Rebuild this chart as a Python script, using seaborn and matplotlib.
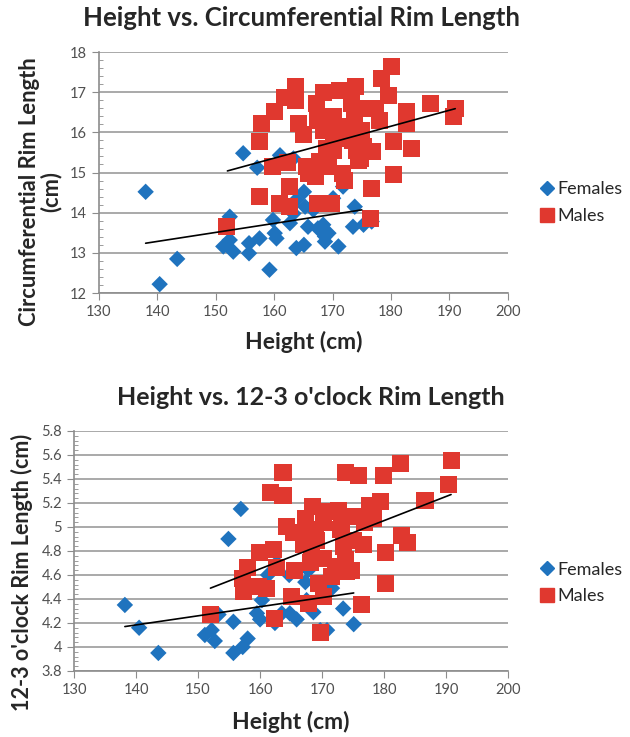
import numpy as np
import pandas as pd
import matplotlib
matplotlib.use("Agg")
import matplotlib.pyplot as plt
import seaborn as sns
from matplotlib.ticker import MultipleLocator
from matplotlib.lines import Line2D

# top chart: height vs circumferential rim length
fem_h1 = [138.0, 140.4, 143.4, 154.7, 157.1, 161.0, 163.3, 152.4, 151.3, 152.4, 153.0, 155.7, 155.7,
          157.5, 159.2, 159.8, 160.1, 160.4, 162.7, 163.8, 165.1, 165.1, 163.8, 165.3, 165.8, 167.5,
          168.4, 168.7, 168.7, 169.3, 170.1, 171.0, 171.8, 173.5, 173.8, 175.3, 176.7, 163.3, 166.7]
fem_c1 = [14.52, 12.22, 12.85, 15.48, 15.12, 15.43, 15.35, 13.90, 13.16, 13.32, 13.03, 12.99, 13.24,
          13.36, 12.58, 13.82, 13.49, 13.36, 13.74, 13.12, 13.20, 14.52, 14.32, 14.15, 13.65, 13.61,
          13.70, 13.41, 13.28, 13.49, 14.36, 13.16, 14.65, 13.65, 14.15, 13.70, 13.78, 13.98, 14.07]
male_h1 = [151.8, 157.5, 157.9, 157.5, 160.0, 159.8, 161.7, 163.7, 163.7, 162.3, 162.7, 161.0, 162.6,
           164.1, 165.1, 165.5, 165.8, 167.1, 167.5, 167.2, 167.5, 168.4, 168.4, 169.0, 167.8, 169.3,
           169.8, 170.1, 170.1, 170.1, 170.1, 171.2, 171.7, 172.1, 172.4, 173.3, 174.0, 173.8, 173.5,
           174.4, 175.3, 175.0, 176.7, 176.5, 175.8, 176.9, 177.4, 178.0, 178.3, 179.5, 180.1, 180.4,
           180.4, 182.7, 182.7, 183.5, 186.7, 190.7, 191.0, 172.1, 174.1, 174.7]
male_c1 = [13.65, 15.77, 16.22, 14.40, 16.51, 15.14, 16.88, 17.13, 16.80, 15.24, 14.65, 14.23, 14.15,
           16.22, 15.95, 15.14, 14.98, 14.90, 14.23, 16.72, 16.30, 17.00, 16.05, 15.60, 15.27, 15.14,
           14.23, 16.39, 16.14, 15.80, 15.55, 17.05, 14.98, 14.81, 16.14, 16.72, 17.13, 16.39, 15.80,
           15.30, 15.64, 16.05, 14.60, 13.86, 16.59, 15.52, 16.59, 16.30, 17.34, 16.92, 17.63, 15.77,
           14.94, 16.51, 16.22, 15.60, 16.72, 16.39, 16.59, 15.85, 15.55, 15.35]
fit1_fem_x = [138.0, 175.0]
fit1_fem_y = [13.24, 14.07]
fit1_male_x = [152.0, 191.0]
fit1_male_y = [15.04, 16.59]

# bottom chart: height vs 12-3 o'clock rim length
fem_h2 = [138.2, 140.5, 143.6, 156.9, 154.9, 151.1, 152.2, 152.7, 153.3, 155.7, 155.7, 157.2, 158.0,
          159.5, 160.0, 160.3, 161.3, 162.7, 162.4, 163.5, 164.7, 164.8, 165.9, 167.3, 167.5, 168.6,
          170.8, 171.6, 173.4, 175.1, 169.7, 165.4, 167.8]
fem_l2 = [4.35, 4.16, 3.95, 5.15, 4.90, 4.10, 4.14, 4.05, 4.27, 4.21, 3.95, 4.00, 4.07,
          4.28, 4.23, 4.39, 4.60, 4.70, 4.20, 4.28, 4.60, 4.28, 4.23, 4.54, 4.39, 4.29,
          4.14, 4.49, 4.32, 4.19, 4.14, 4.64, 4.64]
male_h2 = [152.0, 157.2, 158.0, 157.3, 159.9, 159.7, 161.1, 162.2, 161.7, 163.7, 163.7, 162.6, 162.4,
           164.2, 165.4, 165.6, 165.1, 166.7, 167.0, 167.4, 167.8, 168.5, 168.9, 169.1, 168.3, 168.1,
           169.4, 169.7, 170.2, 170.2, 170.2, 171.0, 171.6, 172.1, 172.6, 172.9, 173.2, 173.7, 173.4,
           173.7, 174.0, 174.7, 175.0, 175.9, 175.1, 176.4, 176.7, 176.9, 177.7, 178.3, 179.4, 179.9,
           180.2, 180.2, 182.6, 182.8, 183.7, 186.6, 190.4, 190.9]
male_l2 = [4.27, 4.57, 4.66, 4.46, 4.79, 4.50, 4.49, 4.81, 5.29, 5.26, 5.45, 4.66, 4.24,
           5.00, 4.95, 4.64, 4.42, 4.95, 4.85, 5.07, 4.36, 5.17, 4.98, 4.89, 4.79, 4.70,
           4.53, 4.12, 4.74, 4.42, 5.04, 5.13, 4.59, 4.67, 5.14, 4.98, 5.00, 5.45, 4.84,
           4.73, 4.63, 4.64, 5.09, 5.43, 4.89, 4.35, 4.85, 5.04, 5.18, 5.07, 5.21, 5.43,
           4.79, 4.53, 5.53, 4.93, 4.87, 5.22, 5.35, 5.55]
fit2_fem_x = [138.2, 175.1]
fit2_fem_y = [4.17, 4.45]
fit2_male_x = [152.0, 190.8]
fit2_male_y = [4.49, 5.27]

groups = ["Females", "Males"]
blue = "#1F73BE"
red = "#E0382F"

sns.set_style("white")
plt.rcParams["font.family"] = ["Lato", "DejaVu Sans"]

fig = plt.figure(figsize=(6.3, 7.37), dpi=100)
ax1 = fig.add_axes([0.157, 0.6024, 0.649, 0.327])
ax2 = fig.add_axes([0.1175, 0.0896, 0.689, 0.3257])


def make_df(fh, fv, mh, mv):
    return pd.DataFrame({
        "h": fh + mh,
        "v": fv + mv,
        "sex": [groups[0]] * len(fh) + [groups[1]] * len(mh),
    })


def draw(ax, df, fits, ylim, ymaj, ymin, ylabel, ylab_pos, ylab_size, xlab_pad, leg_y):
    sns.scatterplot(data=df, x="h", y="v", hue="sex", style="sex",
                    markers={"Females": "D", "Males": "s"},
                    palette={"Females": blue, "Males": red},
                    size="sex", sizes={"Females": 70, "Males": 150},
                    edgecolor="none", linewidth=0, legend=False, ax=ax, zorder=3)
    for fx, fy in fits:
        ax.plot(fx, fy, color="black", lw=1.2, zorder=4)
    ax.set_xlim(130, 200)
    ax.set_ylim(*ylim)
    ax.xaxis.set_major_locator(MultipleLocator(10))
    ax.yaxis.set_major_locator(MultipleLocator(ymaj))
    ax.yaxis.set_minor_locator(MultipleLocator(ymin))
    ax.yaxis.set_major_formatter(plt.FuncFormatter(lambda v, p: f"{v:g}"))
    ax.grid(axis="y", color="#A3A3A3", lw=1.3, zorder=0)
    ax.grid(axis="x", visible=False)
    for s in ["top", "right"]:
        ax.spines[s].set_visible(False)
    for s in ["left", "bottom"]:
        ax.spines[s].set_color("#8C8C8C")
        ax.spines[s].set_linewidth(1.2)
    ax.tick_params(axis="both", which="major", direction="out", length=5, color="#8C8C8C",
                   labelsize=10.5, labelcolor="#505050", left=True, bottom=True)
    ax.tick_params(axis="y", which="minor", direction="in", length=3, color="#8C8C8C", left=True)
    ax.set_xlabel("Height (cm)", fontsize=16.5, fontweight="bold", labelpad=xlab_pad)
    ax.set_ylabel(ylabel, fontsize=ylab_size, fontweight="bold", linespacing=1.0)
    ax.yaxis.set_label_coords(*ylab_pos)
    handles = [Line2D([], [], marker="D", color=blue, ls="none", markersize=7),
               Line2D([], [], marker="s", color=red, ls="none", markersize=10)]
    ax.legend(handles, groups, loc="center left", bbox_to_anchor=(0.857, leg_y),
              bbox_transform=fig.transFigure, frameon=False, fontsize=13,
              handletextpad=0.15, labelspacing=0.6, handlelength=0.8, borderpad=0,
              borderaxespad=0)


draw(ax1, make_df(fem_h1, fem_c1, male_h1, male_c1),
     [(fit1_fem_x, fit1_fem_y), (fit1_male_x, fit1_male_y)],
     (12, 18), 1, 0.2, "Circumferential Rim Length\n(cm)", (-0.092, 0.42), 15.8, 9, 0.725)
draw(ax2, make_df(fem_h2, fem_l2, male_h2, male_l2),
     [(fit2_fem_x, fit2_fem_y), (fit2_male_x, fit2_male_y)],
     (3.8, 5.8), 0.2, 0.04, "12-3 o'clock Rim Length (cm)", (-0.094, 0.41), 15.5, 10, 0.209)

fig.text(0.478, 0.9756, "Height vs. Circumferential Rim Length", fontsize=18.5,
         fontweight="bold", ha="center", va="center")
fig.text(0.494, 0.4613, "Height vs. 12-3 o'clock Rim Length", fontsize=18,
         fontweight="bold", ha="center", va="center")

fig.savefig("out.png", dpi=100)
